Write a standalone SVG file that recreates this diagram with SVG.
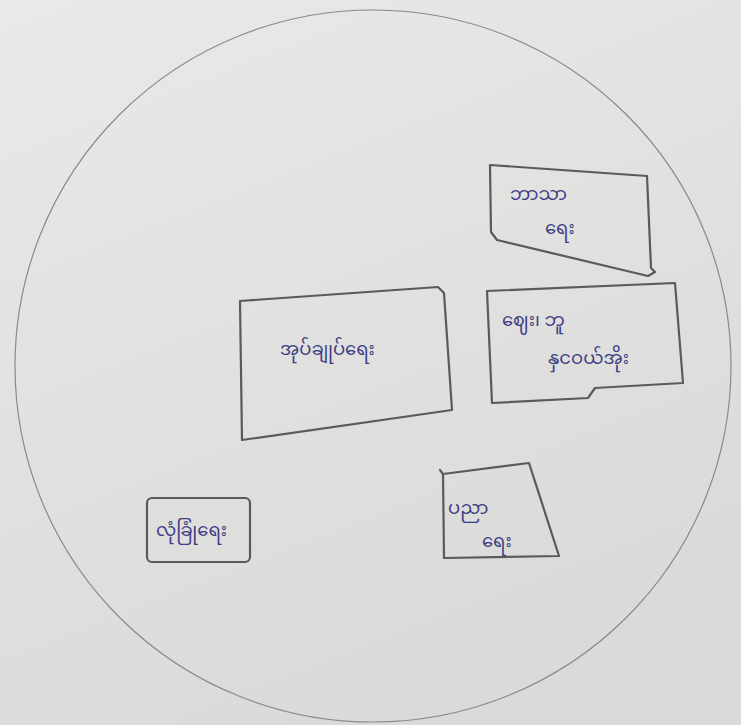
<svg xmlns="http://www.w3.org/2000/svg" width="741" height="725" viewBox="0 0 741 725">
<defs>
<linearGradient id="bg" x1="0" y1="0" x2="0.4" y2="1">
<stop offset="0" stop-color="#e9e9e8"/>
<stop offset="1" stop-color="#dadad8"/>
</linearGradient>
<style>
.box{fill:none;stroke:#5a5a5a;stroke-width:2.2;stroke-linejoin:round;stroke-linecap:round}
.ring{fill:none;stroke:#8a8a8a;stroke-width:1.2}
.t{font-family:"Noto Sans Myanmar","Padauk","Myanmar Text","Noto Sans",sans-serif;fill:#3e3e86;font-size:18px}
</style>
</defs>
<rect width="741" height="725" fill="url(#bg)"/>
<g id="circle"><ellipse class="ring" cx="373" cy="366" rx="358" ry="356"/></g>
<g id="connectors"></g>
<g id="religion">
<path class="box" d="M490,165 L647,176 L651,268 L655,272 L648,276 L497,240 L491,232 Z"/>
<text class="t" x="510" y="200">ဘာသာ</text>
<text class="t" x="545" y="234">ရေး</text>
</g>
<g id="market">
<path class="box" d="M487,291 L675,283 L683,383 L595,388 L588,398 L492,403 Z"/>
<text class="t" x="502" y="326">ဈေး၊ ဘူ</text>
<text class="t" x="548" y="364">နှငဝယ်အိုး</text>
</g>
<g id="administration">
<path class="box" d="M240,301 L438,287 L444,293 L452,410 L242,440 Z"/>
<text class="t" x="280" y="355">အုပ်ချုပ်ရေး</text>
</g>
<g id="education">
<path class="box" d="M443,474 L529,463 L559,556 L444,558 Z M443,474 L440,470"/>
<text class="t" x="448" y="514">ပညာ</text>
<text class="t" x="482" y="547">ရေး</text>
</g>
<g id="security">
<rect class="box" x="147" y="498" width="103" height="64" rx="5"/>
<text class="t" x="156" y="536">လုံခြုံရေး</text>
</g>
</svg>
